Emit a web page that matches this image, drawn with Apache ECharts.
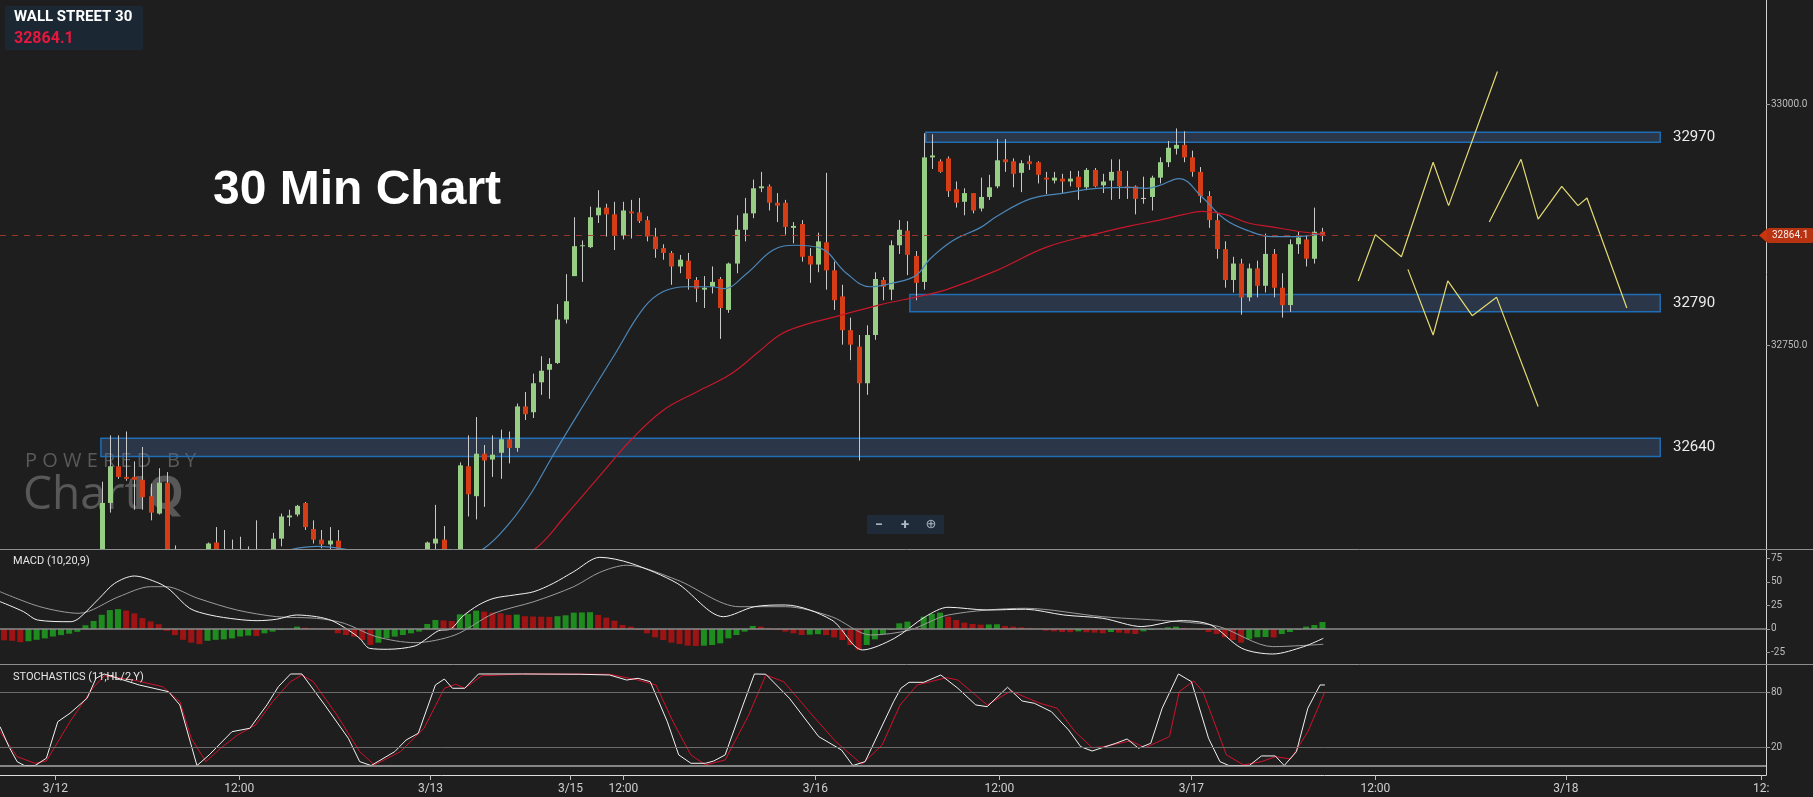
<!DOCTYPE html>
<html><head><meta charset="utf-8">
<script src="https://cdn.jsdelivr.net/npm/echarts@6.0.0/dist/echarts.min.js"></script>
<style>html,body{margin:0;padding:0;background:#1e1e1e;}#c{width:1813px;height:797px;}</style>
</head><body><div id="c"></div>
<script>
// ---------- DATA ----------
const candleOpen = [
32470,32462,32468,32460,32470,32478,32485,32480,32490,32498,32495,32505,
32518,32587,32625,32614,32614,32611,32594,32576,32608,
32530,32505,32500,32510,32520,32546,32520,32525,32520,32528,32522,32530,
32528,32550,32572,32575,32587,32560,32549,32544,32548,
32530,32520,32512,32505,32500,32495,32498,32505,32510,32515,
32522,32545,32549,32525,32530,32625,32594,32638,32632,32639,32653,32644,
32687,32681,32712,32725,32732,32777,32822,32853,32852,32885,
32893,32886,32864,32889,32888,32880,32863,32851,32846,32832,
32838,32818,32808,32811,32819,32787,32835,32870,32887,32913,
32915,32898,32898,32872,32876,32843,32834,32857,32828,32801,
32766,32749,32711,32761,32818,32808,32854,32869,32843,32816,
32945,32941,32944,32912,32899,32908,32892,32904,32915,32943,
32941,32929,32941,32940,32924,32921,32923,32920,32925,32914,
32932,32916,32921,32931,32915,32915,32903,32904,
32924,32940,32954,32958,32945,32930,32905,32880,32850,32818,32835,
32800,32830,32812,32845,32810,32792,32855,32860,32840,32868];
const candleClose = [
32462,32468,32460,32470,32478,32485,32480,32490,32498,32495,32505,32518,
32587,32625,32614,32612,32611,32593,32577,32608,32507,
32505,32500,32510,32515,32545,32520,32525,32520,32528,32522,32530,32524,
32550,32573,32574,32584,32562,32549,32544,32548,32530,
32520,32512,32505,32500,32495,32498,32505,32510,32515,32520,
32546,32550,32525,32530,32626,32596,32638,32631,32637,32653,32644,32687,
32679,32711,32724,32731,32777,32796,32853,32854,32883,32893,
32886,32864,32890,32887,32879,32863,32850,32846,32832,32839,
32819,32809,32810,32816,32789,32835,32870,32887,32913,32915,
32898,32895,32873,32874,32842,32834,32858,32828,32797,32766,
32751,32711,32761,32819,32811,32854,32870,32844,32815,32945,
32947,32930,32910,32898,32908,32890,32904,32914,32942,32940,
32928,32939,32938,32927,32922,32924,32920,32923,32914,32932,
32915,32920,32930,32915,32913,32902,32903,32924,
32940,32955,32958,32945,32930,32905,32880,32850,32818,32835,32800,
32830,32812,32845,32810,32792,32855,32862,32840,32868,32864.1];
const candleLow = [
32455,32455,32452,32455,32465,32472,32474,32476,32485,32488,32490,32500,
32512,32577,32612,32610,32580,32580,32569,32575,32497,
32498,32490,32492,32500,32515,32512,32510,32512,32512,32514,32515,32515,
32520,32542,32563,32573,32559,32545,32540,32539,32522,
32510,32505,32495,32490,32488,32485,32490,32498,32502,32508,
32515,32539,32518,32515,32522,32573,32570,32583,32614,32612,32628,32640,
32673,32675,32699,32695,32731,32773,32822,32816,32851,32877,
32863,32849,32860,32861,32877,32858,32841,32839,32813,32825,
32808,32795,32789,32804,32757,32784,32825,32858,32882,32909,
32890,32878,32865,32856,32837,32815,32826,32808,32787,32751,
32735,32631,32699,32756,32797,32797,32845,32823,32797,32808,
32933,32929,32904,32893,32885,32887,32889,32901,32913,32930,
32914,32909,32932,32918,32907,32918,32908,32915,32901,32911,
32914,32908,32901,32902,32902,32886,32897,32890,
32918,32935,32948,32940,32925,32898,32872,32840,32810,32805,32782,
32796,32800,32805,32800,32779,32785,32845,32832,32835,32858];
const candleHigh = [
32478,32475,32472,32476,32485,32490,32492,32496,32505,32508,32515,32525,
32609,32657,32657,32661,32630,32645,32607,32623,32619,
32543,32520,32525,32530,32546,32562,32559,32549,32552,32542,32569,32537,
32556,32576,32580,32585,32588,32569,32559,32562,32559,
32536,32530,32520,32515,32510,32508,32515,32520,32525,32530,
32547,32585,32563,32536,32629,32657,32676,32647,32657,32663,32661,32690,
32702,32721,32739,32737,32793,32824,32883,32859,32894,32911,
32897,32899,32899,32901,32903,32884,32872,32855,32848,32844,
32846,32821,32822,32832,32821,32836,32885,32903,32922,32930,
32917,32908,32901,32878,32880,32851,32867,32929,32837,32813,
32779,32761,32771,32826,32821,32859,32880,32879,32848,32970,
32969,32943,32946,32920,32913,32908,32924,32927,32964,32964,
32944,32942,32947,32941,32930,32930,32928,32931,32931,32934,
32934,32928,32943,32943,32931,32916,32925,32926,
32945,32962,32975,32972,32952,32935,32910,32888,32858,32842,32840,
32835,32838,32866,32850,32825,32860,32868,32864,32893,32872];

const lastPrice = 32864.1;

// moving averages [candle index, price]
const blueMA = [[-0.5,32470],[10,32490],[20,32512],[28,32528],[34,32537],[38.5,32542],[42,32539],[47,32528],[52,32524],[56,32530],[59,32540],[62,32565],[64.6,32595],[67.5,32637],[70.8,32683],[74.9,32739],[78.6,32789],[81,32806],[83.9,32811],[87.1,32811],[88.4,32809],[91.3,32825],[94.5,32849],[97.2,32854],[100.3,32851],[103.5,32825],[106.4,32811],[109.3,32815],[112.1,32823],[113.8,32840],[116.6,32859],[119.9,32872],[122,32884],[126.1,32902],[130.2,32908],[134.3,32913],[138.4,32914],[140.4,32913],[142,32916],[144.4,32923],[147.2,32904],[150,32881],[152.9,32869],[155.8,32863],[158.6,32863],[162,32866]];
const redMA = [[-0.5,32400],[30,32440],[50,32480],[60,32515],[65.2,32539],[69,32574],[73.8,32621],[77,32652],[81,32683],[85.1,32702],[89.2,32720],[92.5,32742],[95.3,32761],[97.8,32770],[101.7,32779],[107.5,32792],[113,32802],[115.8,32808],[122,32828],[128.1,32852],[134.3,32866],[138.4,32874],[142,32880],[145,32886],[147.2,32889],[150,32886],[152.9,32877],[155.8,32873],[158.6,32869],[162,32865]];

// hand-drawn projection paths [candle index, price]
const projA = [[166.4,32817],[168.5,32865],[171.7,32842],[175.6,32940],[177.5,32895],[183.5,33034]];
const projB = [[182.5,32878],[186.4,32943],[188.5,32881],[191.4,32915],[193.4,32895],[194.5,32903],[199.4,32789]];
const projC = [[172.5,32829],[175.6,32761],[177.4,32817],[180.4,32781],[183.4,32800],[188.5,32687]];

// support / resistance zones
const zoneLabel = ['32970','32790','32640'];
const zoneTop = [32971, 32803, 32654];
const zoneBottom = [32960.6, 32785, 32635];
const zoneStart = [113.25, 111.3, 11.9];
const zoneEnd = [203.5, 203.5, 203.5];

// MACD (10,20,9)
const macdHist = [
-12,-12.5,-14,-13,-11.5,-10,-8,-6.5,-5,-3,
4,8.5,15,20,21,19.5,16.5,11.5,8,5,
-2,-6.5,-11.5,-14.5,-16,-12.5,-11.5,-11,-10,-8,
-7,-7.5,-4.6,-2.8,-1.1,-0.4,2.5,1.4,0.7,0.3,
-1.1,-4.6,-6.4,-8.1,-11.7,-16.9,-14.5,-9.9,-8.1,-6.4,
-4.6,-2.8,5.3,9.5,9,8.5,15.5,16,19.4,18.4,
17.3,16.6,14.8,15.2,13.5,13.2,13,12.8,13.5,14.5,
17.3,17.5,17.8,14.8,12,8.8,4.2,2.5,-1.1,-4.6,
-8.8,-11.7,-14.5,-15.9,-17.7,-18,-17.7,-17,-15.2,-9.9,
-6.4,-2.8,3.2,2.5,1,-1.1,-2.8,-4.6,-6.4,-6,
-5.5,-6.5,-9,-11.7,-17,-22,-17,-11,-5.3,-1,
6,7.8,1,13,16,17.3,13,9.5,6.7,5.3,
4.6,4.8,5,3.2,2.5,1.8,1.1,-0.4,-1.8,-2.5,
-3.2,-3.4,-2.5,-3.5,-3.9,-4.6,-3.2,-3.9,-4.6,-5.3,
-2.5,-1.1,0.4,1.8,2.5,1.1,0.4,-1.1,-3.2,-5.3,
-8.8,-11.7,-14.5,-10.9,-8.8,-8.5,-9,-5.3,-3.2,-1.1,
2.5,4.2,7.4];
const macdHistColor = "rrrggggggg"+"gggggrrrrr"+"rrrrrggggg"+"grgggggrrr"+"rrrrrrgggg"+"ggggrrgggr"+"rrrgrrrrgg"+"gggrrrrrrr"+"rrrrrrgggg"+"gggrrrrrrg"+"grrrrrgggg"+"ggrgggrrrr"+"rggrrrrrrr"+"rrgrrrgrrr"+"gggggrrrrr"+"rrrgggrggg"+"ggg";
const macdLine = [[-0.5,29],[2.4,18.3],[4.1,9.5],[8.2,7.7],[9.2,11.3],[11.7,32.5],[13.6,48.4],[16,56.1],[18.9,49],[20.4,41.3],[22.8,21.9],[25.3,14.8],[28.6,10.3],[31.1,8.8],[33.5,10.3],[35.9,14.8],[38.4,13],[40.3,8.8],[42.3,-1.1],[43.7,-9.9],[44.9,-20.5],[47.1,-21.5],[50.5,-18],[52,-9.9],[53.4,-1.8],[54.9,0],[56.3,13],[58.3,25.4],[60.2,32.5],[62.7,36],[65.1,39.5],[67.5,48.4],[70,60.7],[73.2,75.9],[77,69.6],[82.7,48.4],[88.4,13],[92.2,23.6],[96,25.4],[101.7,9.5],[105.5,-22.2],[109.4,-9.9],[113.2,13],[116,23],[120.8,20.1],[125.5,20.9],[130.2,14.8],[135,11.3],[139.8,2.5],[144.5,8.8],[148.3,4.2],[152.1,-20.5],[155.9,-26.5],[159.7,-18.7],[162.1,-9.9]];
const macdSignal = [[-0.5,39.5],[4.4,23.6],[9.2,16.6],[14.1,34.2],[18,44.8],[19.9,44.8],[23.8,32.5],[28.6,20.1],[33.5,13],[38.4,11.3],[41.8,6],[45.7,-8.1],[50.5,-14.5],[55.4,-6.4],[60.2,16.6],[65.1,28.9],[70,44.8],[73.2,60],[76.5,67.5],[82.7,51.9],[90.3,23.6],[96,23.6],[101.7,13],[106.5,-6.4],[111.3,-1.1],[116,14.8],[125.5,21.9],[135,13],[144.5,7.7],[149.3,2.5],[155.9,-18.7],[162.1,-16.2]];

// STOCHASTICS (11,HL/2,Y)
const stochK = [[-0.5,42.5],[0.6,20.6],[1.6,4.3],[2.5,0],[3.8,0],[5.2,8],[6.6,47.9],[8.1,57.1],[10.2,73.5],[11.3,95.3],[12.3,100],[16.6,88],[20.2,80.7],[21.6,66.2],[23.7,0],[25.2,11.6],[28,37],[30.2,40.7],[32.3,66.2],[33.7,86.1],[35.2,100],[36.6,100],[39.4,66.2],[42.3,29.8],[43.7,4.3],[45.1,0],[48,15.2],[49.4,27.9],[50.9,35.3],[53,88],[54.1,94.5],[55.1,84.4],[56.6,84.4],[58.3,100],[63.7,100],[70.8,99.7],[74.4,98.9],[76.5,93.4],[77.9,95.3],[79.4,91.6],[81.5,47.9],[82.9,11.6],[84.4,2.5],[86.2,2.5],[87.2,5],[88.6,11.6],[90.8,66.2],[92.2,100],[93.6,99.7],[96.5,73.5],[100.1,31.6],[102.9,17],[104.3,0],[105.8,4.3],[109.3,69.8],[110.2,84.4],[111.2,90.9],[113,90.9],[115.1,98.9],[117.2,84.4],[119.4,66.2],[120.8,64.3],[123.3,85.5],[125.1,70.5],[126.6,68],[128.7,58.8],[130.8,38.9],[132.3,20.6],[133.7,15.9],[136.6,24.3],[138,29],[139.4,18.9],[140.9,24.3],[142.3,62.6],[144.3,100],[145.9,91.6],[148,29.8],[149.4,4.3],[150.5,0],[153,0],[154.5,10.5],[156.2,10.5],[157.3,0],[158.8,15.2],[160.2,62.6],[161.7,88],[162.3,88]];
const stochD = [[-0.5,37],[1.6,9.7],[3.8,2.5],[5.2,5],[8.1,47.9],[10.9,84.4],[12.3,98.1],[15.9,93.4],[19.5,86.1],[21.6,69.8],[23,29.8],[24.8,4.3],[26.6,18.9],[28.7,33.4],[30.9,44.3],[33,69.8],[35.2,91.6],[36.6,98.9],[38,91.6],[40.9,55.2],[43.7,15.2],[45.5,0.7],[48.7,15.2],[51.6,40.7],[54.1,84.4],[55.5,88.8],[56.6,84.4],[58.7,98.1],[63.7,100],[74.4,99.7],[77.9,93.4],[80.1,88],[82.2,47.9],[84.4,11.6],[86.2,0.7],[88.6,6.1],[91.5,55.2],[93.6,98.9],[95.8,91.6],[99.3,55.2],[102.2,26.1],[105.4,1.4],[107.9,22.5],[110.1,66.2],[112.2,88],[115.8,96],[117.2,93.4],[120.8,66.2],[123.7,81.4],[127.3,68],[129.4,62.6],[131.6,37],[133.7,19.5],[135.1,20.6],[138.4,26.9],[140.2,19.5],[143.2,31.6],[144.4,80.7],[146.2,92.4],[147.3,80.7],[150.2,11.6],[152.3,0.7],[154.5,4.3],[156.2,9.7],[158.1,7.2],[160.2,37],[162.3,80.7]];

// axis ticks / labels
const xLabelPos = [6.3, 28.9, 52.4, 69.6, 76.1, 99.7, 122.3, 145.9, 168.5, 191.9, 215.9];
const xLabelText = ['3/12','12:00','3/13','3/15','12:00','3/16','12:00','3/17','12:00','3/18','12:'];
const priceTicks = [32750, 33000];
const macdTicks = [-25, 0, 25, 50, 75];
const stochTicks = [20, 80];
const stochLevels = [80, 20, 0];

// ---------- CHART ----------
const N = 217;
const cats = Array.from({length: N}, (_, i) => String(i));
const candleRows = candleOpen.map((o, i) => [i, o, candleClose[i], candleLow[i], candleHigh[i]]);
const histData = macdHist.map((v, i) => ({value: v, itemStyle: {color: macdHistColor[i] === 'g' ? '#1f8c1f' : '#9e1414'}}));

const UP = '#97cd85', DOWN = '#d43d16', WICK = '#c9c9c9';
const FONT = 'Roboto';

function renderCandle(params, api) {
  const i = api.value(0), o = api.value(1), c = api.value(2), l = api.value(3), h = api.value(4);
  const pO = api.coord([i, o]), pC = api.coord([i, c]), pL = api.coord([i, l]), pH = api.coord([i, h]);
  const x = Math.round(pO[0]) + 0.5;
  const top = Math.min(pO[1], pC[1]), bot = Math.max(pO[1], pC[1]);
  const col = c > o ? UP : (c < o ? DOWN : WICK);
  return {type: 'group', children: [
    {type: 'line', shape: {x1: x, y1: pH[1], x2: x, y2: pL[1]}, style: {stroke: WICK, lineWidth: 1}},
    {type: 'rect', shape: {x: x - 2.5, y: top, width: 5, height: Math.max(1, bot - top)}, style: {fill: col}}
  ]};
}

const chart = echarts.init(document.getElementById('c'), null, {renderer: 'canvas'});
const valX = (g, show) => ({
  type: 'value', gridIndex: g, min: -0.5, max: N - 0.5, show: !!show,
  axisLine: {onZero: false}, splitLine: {show: false}
});

const option = {
  backgroundColor: '#1e1e1e',
  animation: false,
  textStyle: {fontFamily: FONT},
  grid: [
    {left: 0, right: 47, top: 0, height: 549},
    {left: 0, right: 47, top: 549, height: 115},
    {left: 0, right: 47, top: 664, height: 111}
  ],
  xAxis: [
    valX(0),
    {type: 'category', gridIndex: 1, data: cats, show: false, boundaryGap: true, axisLine: {onZero: false}},
    valX(1),
    Object.assign(valX(2, true), {
      axisLine: {show: true, onZero: false, lineStyle: {color: '#dcdcdc', width: 1}},
      axisTick: {show: true, customValues: xLabelPos, length: 5, lineStyle: {color: '#bdbdbd'}},
      axisLabel: {show: true, customValues: xLabelPos, color: '#cfcfcf', fontSize: 12, margin: 8, fontFamily: FONT,
        formatter: v => { const k = xLabelPos.findIndex(p => Math.abs(p - v) < 0.01); return k >= 0 ? xLabelText[k] : ''; }}
    })
  ],
  yAxis: [
    {type: 'value', gridIndex: 0, position: 'right', min: 32539.3, max: 33108.05,
      axisLine: {show: true, onZero: false, lineStyle: {color: '#d0d0d0'}}, splitLine: {show: false},
      axisTick: {show: true, customValues: priceTicks, length: 4, lineStyle: {color: '#9a9a9a'}},
      axisLabel: {customValues: priceTicks, formatter: v => v.toFixed(1), color: '#bdbdbd', fontSize: 10, margin: 5, fontFamily: FONT}},
    {type: 'value', gridIndex: 1, position: 'right', min: -37.1, max: 84.7,
      axisLine: {show: true, onZero: false, lineStyle: {color: '#d0d0d0'}}, splitLine: {show: false},
      axisTick: {show: true, customValues: macdTicks, length: 4, lineStyle: {color: '#9a9a9a'}},
      axisLabel: {customValues: macdTicks, color: '#bdbdbd', fontSize: 10, margin: 5, fontFamily: FONT}},
    {type: 'value', gridIndex: 2, position: 'right', min: -10.3, max: 110.9,
      axisLine: {show: true, onZero: false, lineStyle: {color: '#d0d0d0'}}, splitLine: {show: false},
      axisTick: {show: true, customValues: stochTicks, length: 4, lineStyle: {color: '#9a9a9a'}},
      axisLabel: {customValues: stochTicks, color: '#bdbdbd', fontSize: 10, margin: 5, fontFamily: FONT}}
  ],
  series: [
    // candles (wick + body), clipped to the price panel
    {type: 'custom', xAxisIndex: 0, yAxisIndex: 0, data: candleRows, renderItem: renderCandle, clip: true, silent: true, z: 2,
      encode: {x: 0, y: [1, 2, 3, 4]}},
    // moving averages (+ last price line)
    {type: 'line', xAxisIndex: 0, yAxisIndex: 0, data: blueMA, smooth: 0.4, symbol: 'none', clip: true, silent: true, z: 4,
      lineStyle: {color: '#4b87b9', width: 1.2},
      markLine: {silent: true, symbol: ['none', 'none'], animation: false,
        lineStyle: {color: '#a8392a', type: [6, 6], width: 1, opacity: 0.9},
        label: {show: true, position: 'end', formatter: String(lastPrice), color: '#ffffff', backgroundColor: '#c8350f',
          padding: [3, 5, 2, 5], fontSize: 10, fontFamily: FONT, distance: 1, borderRadius: 2},
        data: [{yAxis: lastPrice}]}},
    {type: 'line', xAxisIndex: 0, yAxisIndex: 0, data: redMA, smooth: 0.4, symbol: 'none', clip: true, silent: true, z: 4,
      lineStyle: {color: '#c8172b', width: 1.2}},
    // zones
    {type: 'line', xAxisIndex: 0, yAxisIndex: 0, data: [[-0.5, 30000]], symbol: 'none', silent: true, z: 6,
      lineStyle: {opacity: 0},
      markArea: {silent: true, itemStyle: {color: 'rgba(70,105,160,0.33)', borderColor: '#1f6db4', borderWidth: 1.5},
        label: {show: true, position: 'right', distance: 12, color: '#ececec', fontSize: 15, fontFamily: FONT},
        data: zoneLabel.map((lb, k) => [{name: lb, xAxis: zoneStart[k], yAxis: zoneTop[k]}, {xAxis: zoneEnd[k], yAxis: zoneBottom[k]}])}},
    // projections
    ...[projA, projB, projC].map(p => ({type: 'line', xAxisIndex: 0, yAxisIndex: 0, data: p, symbol: 'none', silent: true, z: 7,
      clip: true, lineStyle: {color: '#e4da72', width: 1.2}})),
    // MACD histogram
    {type: 'bar', xAxisIndex: 1, yAxisIndex: 1, data: histData, barWidth: 6, silent: true, z: 2,
      markLine: {silent: true, symbol: ['none', 'none'], label: {show: false}, lineStyle: {color: '#8c8c8c', type: 'solid', width: 1.5},
        data: [{yAxis: 0}]}},
    {type: 'line', xAxisIndex: 2, yAxisIndex: 1, data: macdSignal, smooth: 0.3, symbol: 'none', silent: true, z: 3,
      lineStyle: {color: '#9c9c9c', width: 1}},
    {type: 'line', xAxisIndex: 2, yAxisIndex: 1, data: macdLine, smooth: 0.3, symbol: 'none', silent: true, z: 4,
      lineStyle: {color: '#f2f2f2', width: 1}},
    // Stochastics
    {type: 'line', xAxisIndex: 3, yAxisIndex: 2, data: stochD, symbol: 'none', silent: true, z: 3,
      lineStyle: {color: '#d0122c', width: 1},
      markLine: {silent: true, symbol: ['none', 'none'], label: {show: false},
        data: stochLevels.map(v => ({yAxis: v, lineStyle: {color: v === 0 ? '#a8a8a8' : '#6c6c6c', type: 'solid', width: v === 0 ? 1.5 : 1}}))}},
    {type: 'line', xAxisIndex: 3, yAxisIndex: 2, data: stochK, symbol: 'none', silent: true, z: 4,
      lineStyle: {color: '#f2f2f2', width: 1}}
  ],
  graphic: [
    {type: 'line', shape: {x1: 0, y1: 549.5, x2: 1813, y2: 549.5}, style: {stroke: '#8e8e8e', lineWidth: 1}, silent: true, z: 10},
    {type: 'line', shape: {x1: 0, y1: 664.5, x2: 1813, y2: 664.5}, style: {stroke: '#8e8e8e', lineWidth: 1}, silent: true, z: 10},
    {type: 'rect', shape: {x: 5, y: 6, width: 138, height: 44}, style: {fill: '#1b2733'}, silent: true, z: 10},
    {type: 'text', x: 14, y: 17, style: {text: 'WALL STREET 30', fill: '#ffffff', font: 'bold 15px Roboto', textVerticalAlign: 'middle'}, silent: true, z: 11},
    {type: 'text', x: 14, y: 39, style: {text: String(lastPrice), fill: '#e8173e', font: 'bold 16px Roboto', textVerticalAlign: 'middle'}, silent: true, z: 11},
    {type: 'text', x: 213, y: 191, style: {text: '30 Min Chart', fill: '#ffffff', font: 'bold 48px "Liberation Sans"', textVerticalAlign: 'middle'}, silent: true, z: 11},
    {type: 'text', x: 25, y: 461, style: {text: 'P O W E R E D   B Y', fill: '#5a5a5a', font: '20px "Open Sans"', textVerticalAlign: 'middle'}, silent: true, z: 1},
    {type: 'text', x: 23, y: 496, style: {text: 'Chart', fill: '#585858', font: '46px "Open Sans"', textVerticalAlign: 'middle'}, silent: true, z: 1},
    {type: 'text', x: 132, y: 496, style: {text: 'IQ', fill: '#585858', font: 'bold 46px "Open Sans"', textVerticalAlign: 'middle'}, silent: true, z: 1},
    {type: 'rect', shape: {x: 867, y: 515, width: 77, height: 19}, style: {fill: '#1f2b38'}, silent: true, z: 10},
    {type: 'text', x: 879, y: 525, style: {text: '−', fill: '#aeb8c4', font: 'bold 14px Roboto', textAlign: 'center', textVerticalAlign: 'middle'}, silent: true, z: 11},
    {type: 'text', x: 905, y: 525, style: {text: '+', fill: '#aeb8c4', font: 'bold 15px Roboto', textAlign: 'center', textVerticalAlign: 'middle'}, silent: true, z: 11},
    {type: 'text', x: 931, y: 525, style: {text: '⊕', fill: '#aeb8c4', font: '13px "DejaVu Sans"', textAlign: 'center', textVerticalAlign: 'middle'}, silent: true, z: 11},
    {type: 'text', x: 13, y: 561, style: {text: 'MACD (10,20,9)', fill: '#e6e6e6', font: '11px Roboto', textVerticalAlign: 'middle'}, silent: true, z: 11},
    {type: 'text', x: 13, y: 677, style: {text: 'STOCHASTICS (11,HL/2,Y)', fill: '#e6e6e6', font: '11px Roboto', textVerticalAlign: 'middle'}, silent: true, z: 11}
  ]
};
chart.setOption(option);

// small pointer on the last-price badge, placed through the price axis
const py = chart.convertToPixel({yAxisIndex: 0}, lastPrice);
chart.setOption({graphic: option.graphic.concat([
  {type: 'polygon', shape: {points: [[1759, py], [1767, py - 7], [1767, py + 7]]}, style: {fill: '#c8350f'}, silent: true, z: 20}
])});
</script>
</body></html>
